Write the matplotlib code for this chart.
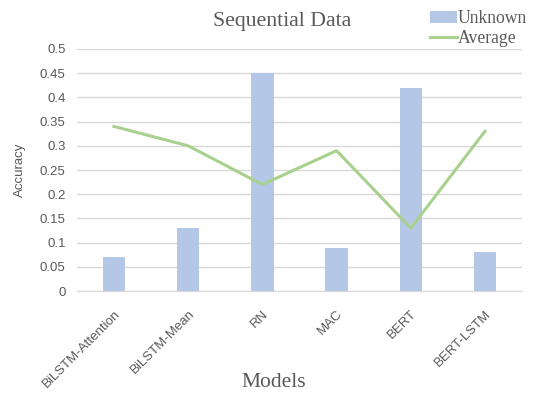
import numpy as np
import matplotlib.pyplot as plt

# accuracy per model on the sequential split
models = ['BiLSTM-Attention', 'BiLSTM-Mean', 'RN', 'MAC', 'BERT', 'BERT-LSTM']
unknown = [0.07, 0.13, 0.45, 0.09, 0.42, 0.08]
average = [0.34, 0.30, 0.22, 0.29, 0.13, 0.33]
yticks = [0, 0.05, 0.1, 0.15, 0.2, 0.25, 0.3, 0.35, 0.4, 0.45, 0.5]

text_grey = '#595959'
serif = 'Liberation Serif'
sans = 'Liberation Sans'

fig = plt.figure(figsize=(5.49, 4.01), dpi=100)
ax = fig.add_axes([0.140, 0.274, 0.811, 0.604])

x = np.arange(len(models))
bars = ax.bar(x, unknown, width=0.3, color='#B4C7E7', label='Unknown', zorder=2)
line, = ax.plot(x, average, color='#A9D18E', lw=2.2, label='Average', zorder=3)

ax.set_xlim(-0.5, len(models) - 0.5)
ax.set_ylim(0, 0.5)
ax.set_yticks(yticks)
ax.set_yticklabels([f'{v:g}' for v in yticks], fontfamily=sans, fontsize=9.5, color=text_grey)
ax.set_xticks(x)
ax.set_xticklabels(models, rotation=45, ha='right', rotation_mode='anchor',
                   fontfamily=sans, fontsize=9.5, color=text_grey)
ax.tick_params(axis='y', length=0, pad=8)
ax.tick_params(axis='x', length=0, pad=12)
ax.yaxis.grid(True, color='#D9D9D9', lw=1, zorder=0)
for s in ['top', 'right', 'left']:
    ax.spines[s].set_visible(False)
ax.spines['bottom'].set_color('#D9D9D9')

ax.set_ylabel('Accuracy', fontfamily=sans, fontsize=9.5, color=text_grey, labelpad=10)
fig.text(0.499, 0.035, 'Models', ha='center', fontfamily=serif, fontsize=15.5, color=text_grey)
fig.text(0.514, 0.935, 'Sequential Data', ha='center', fontfamily=serif, fontsize=15.7, color=text_grey)

leg = ax.legend([bars, line], ['Unknown', 'Average'], loc='upper left',
                bbox_to_anchor=(0.778, 1.19), frameon=False,
                prop={'family': serif, 'size': 12.7}, handlelength=1.5,
                handletextpad=0.05, labelspacing=0.2, borderaxespad=0)
for t in leg.get_texts():
    t.set_color(text_grey)

fig.savefig('out.png', dpi=100)
